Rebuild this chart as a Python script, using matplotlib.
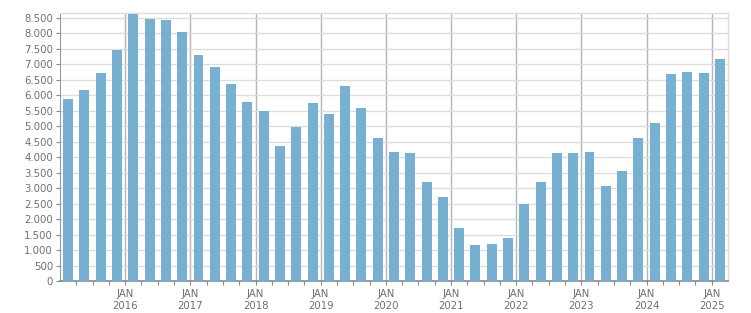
import matplotlib
matplotlib.use("Agg")
import matplotlib.pyplot as plt
from matplotlib.ticker import FuncFormatter, FixedLocator

years = [2015]*4 + [2016]*4 + [2017]*4 + [2018]*4 + [2019]*4 + [2020]*4 + \
        [2021]*4 + [2022]*4 + [2023]*4 + [2024]*4 + [2025]
quarters = [1, 2, 3, 4]*10 + [1]
values = [5890, 6180, 6730, 7480,
          8640, 8480, 8445, 8060,
          7310, 6925, 6370, 5790,
          5500, 4365, 4980, 5760,
          5400, 6310, 5595, 4625,
          4170, 4140, 3200, 2715,
          1710, 1160, 1190, 1385,
          2490, 3200, 4140, 4140,
          4175, 3070, 3555, 4625,
          5110, 6700, 6760, 6730,
          7185]
year_ticks = list(range(2016, 2026))
year_labels = ["JAN\n%d" % y for y in year_ticks]

bar_color = "#78b0d2"
text_color = "#6f6f6f"

fig = plt.figure(figsize=(7.51, 3.13), dpi=100)
ax = fig.add_axes([60/751, 1-281/313, (728-60)/751, (281-13.3)/313])

xs = [y + (q - 0.5) * 0.25 for y, q in zip(years, quarters)]
ax.bar(xs, values, width=0.25*0.61, color=bar_color, zorder=3)

ax.set_xlim(2015, 2025.25)
ax.set_ylim(0, 8650)

ax.set_yticks(range(0, 8501, 500))
ax.yaxis.set_major_formatter(FuncFormatter(lambda v, p: "{:,}".format(int(v)).replace(",", ".")))
ax.set_xticks(year_ticks)
ax.set_xticklabels(year_labels)
minor = [y + q*0.25 for y in range(2015, 2026) for q in range(1, 4) if y + q*0.25 < 2025.25]
ax.xaxis.set_minor_locator(FixedLocator(minor))

ax.grid(axis="y", color="#dddddd", linewidth=1.0, zorder=0)
ax.grid(axis="x", which="major", color="#b5b5b5", linewidth=1.0, zorder=1)

ax.tick_params(axis="both", which="both", colors="#888888", labelcolor=text_color,
               labelsize=7.3, length=3, width=0.8, direction="out")
ax.tick_params(axis="y", pad=2)
ax.tick_params(axis="x", pad=3)
for lab in ax.get_xticklabels():
    lab.set_linespacing(1.25)

for s in ["top", "right"]:
    ax.spines[s].set_color("#dddddd")
    ax.spines[s].set_linewidth(1.0)
ax.spines["left"].set_color("#999999")
ax.spines["bottom"].set_color("#888888")
ax.spines["bottom"].set_linewidth(1.2)

fig.savefig("out.png", dpi=100)
